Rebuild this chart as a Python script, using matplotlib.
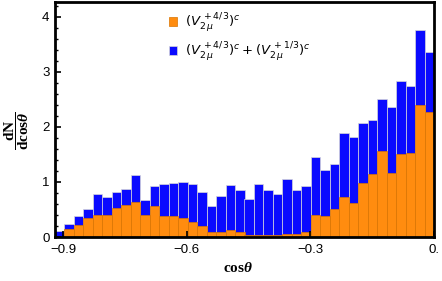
import numpy as np
import matplotlib
matplotlib.use('Agg')
import matplotlib.pyplot as plt
from matplotlib.font_manager import FontProperties
from matplotlib.ticker import MultipleLocator

# histogram: 40 bins over cos(theta) in [-0.92, 0]
bin_edges = np.linspace(-0.92, 0.0, 41)

# (V2mu^{+4/3})^c + (V2mu^{+1/3})^c  (blue, total)
total = [0.10, 0.24, 0.38, 0.51, 0.79, 0.73, 0.82, 0.87, 1.12, 0.68,
         0.93, 0.97, 0.98, 1.00, 0.96, 0.82, 0.57, 0.75, 0.95, 0.86,
         0.69, 0.97, 0.86, 0.79, 1.05, 0.85, 0.93, 1.45, 1.21, 1.33,
         1.89, 1.82, 2.08, 2.13, 2.50, 2.37, 2.84, 2.75, 3.77, 3.36]

# (V2mu^{+4/3})^c only (orange)
part = [0.00, 0.14, 0.22, 0.35, 0.40, 0.40, 0.53, 0.58, 0.64, 0.40,
        0.56, 0.38, 0.38, 0.35, 0.28, 0.20, 0.09, 0.09, 0.12, 0.09,
        0.04, 0.04, 0.04, 0.04, 0.06, 0.06, 0.09, 0.40, 0.38, 0.51,
        0.73, 0.62, 0.98, 1.15, 1.56, 1.17, 1.51, 1.53, 2.40, 2.27]

blue = '#0a0aff'
orange = '#ff8c0f'

plt.rcParams['mathtext.fontset'] = 'custom'
plt.rcParams['mathtext.rm'] = 'Liberation Serif'
plt.rcParams['mathtext.bf'] = 'Liberation Serif:bold'
plt.rcParams['mathtext.it'] = 'Liberation Serif:italic'
plt.rcParams['mathtext.bfit'] = 'Liberation Serif:bold:italic'

fig = plt.figure(figsize=(4.42, 2.81), dpi=100)
ax = fig.add_axes([55 / 442, 1 - 237 / 281, 379 / 442, 235 / 281])

left = bin_edges[:-1]
width = np.diff(bin_edges)
ax.bar(left, total, width=width, align='edge', color=blue,
       edgecolor='#d8d8d8', linewidth=0.5,
       label=r'$(V_{2\,\mu}^{\,+4/3})^{c} + (V_{2\,\mu}^{\,+1/3})^{c}$')
ax.bar(left, part, width=width, align='edge', color=orange,
       edgecolor='#d97400', linewidth=0.5,
       label=r'$(V_{2\,\mu}^{\,+4/3})^{c}$')

ax.set_xlim(-0.92, 0.0)
ax.set_ylim(0, 4.27)
ax.set_xticks([-0.9, -0.6, -0.3, 0.0])
ax.set_xticklabels(['\u22120.9', '\u22120.6', '\u22120.3', '0.'])
ax.yaxis.set_major_locator(MultipleLocator(1))
ax.yaxis.set_minor_locator(MultipleLocator(0.2))
ax.tick_params(direction='in', which='major', length=4, width=1.2,
               labelsize=9.5, top=False, right=False)
ax.tick_params(direction='in', which='minor', length=2.5, width=1)
ax.tick_params(axis='y', pad=4)
ax.tick_params(axis='x', pad=5)
for lab in ax.get_xticklabels() + ax.get_yticklabels():
    lab.set_family('Liberation Sans')
for s in ax.spines.values():
    s.set_linewidth(2)

handles, labels = ax.get_legend_handles_labels()
leg = ax.legend(handles[::-1], labels[::-1], loc='upper left',
                bbox_to_anchor=(0.27, 1.01), frameon=False,
                prop=FontProperties(family='DejaVu Sans', size=9.5,
                                    math_fontfamily='dejavusans'),
                handlelength=0.6, handleheight=0.6, handletextpad=0.6,
                labelspacing=0.45)

fig.text(238 / 442, 1 - 268 / 281, r'$\mathbf{cos}\mathbfit{\theta}$',
         ha='center', va='center', fontsize=11)
fig.text(17 / 442, 1 - 131 / 281,
         r'$\dfrac{\mathbf{dN}}{\mathbf{dcos}\mathbfit{\theta}}$',
         ha='center', va='center', fontsize=11, rotation=90)

fig.savefig('out.png', dpi=100)
